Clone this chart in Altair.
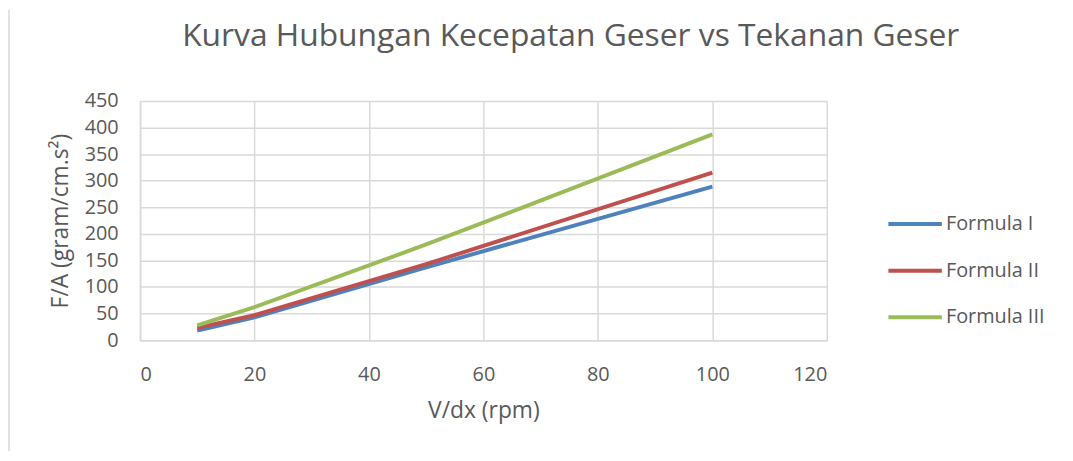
import altair as alt
import pandas as pd

x_vals = [10, 20, 50, 100]
formula1 = [18, 43, 137, 289]
formula2 = [23, 47, 143, 315]
formula3 = [28, 62, 180, 387]
series = ["Formula I", "Formula II", "Formula III"]
colors = ["#4f81bd", "#c0504d", "#9bbb59"]
title_text = "Kurva Hubungan Kecepatan Geser vs Tekanan Geser"

rows = []
for name, vals in zip(series, [formula1, formula2, formula3]):
    for xv, yv in zip(x_vals, vals):
        rows.append({"x": xv, "y": yv, "series": name})
df = pd.DataFrame(rows)

FONT = "Open Sans"
GRAY = "#595959"

lines = alt.Chart(df).mark_line(strokeWidth=4).encode(
    x=alt.X("x:Q", scale=alt.Scale(domain=[0, 120], nice=False),
            axis=alt.Axis(values=[0, 20, 40, 60, 80, 100, 120], title="V/dx (rpm)",
                          labelPadding=25, titlePadding=15)),
    y=alt.Y("y:Q", scale=alt.Scale(domain=[0, 450], nice=False),
            axis=alt.Axis(values=list(range(0, 451, 50)), title="F/A (gram/cm.s²)",
                          labelPadding=22, titlePadding=12)),
    color=alt.Color("series:N", scale=alt.Scale(domain=series, range=colors),
                    legend=alt.Legend(title=None, orient="none", legendX=752, legendY=95,
                                      symbolType="stroke", symbolSize=2900,
                                      symbolStrokeWidth=4, rowPadding=8,
                                      labelFontSize=20, labelColor=GRAY, labelFont=FONT,
                                      labelOffset=2)),
)

meta = pd.DataFrame({"t": [title_text]})

border = alt.Chart(meta).mark_rule(color="#d9d9d9", strokeWidth=1.5).encode(
    x=alt.value(-132), y=alt.value(-92), y2=alt.value(361)
)

title = alt.Chart(meta).mark_text(
    font=FONT, fontSize=32, color=GRAY, align="center", baseline="middle"
).encode(text="t:N", x=alt.value(434), y=alt.value(-65))

chart = alt.layer(border, title, lines).properties(
    width=692, height=241,
    autosize=alt.AutoSizeParams(type="none"),
    padding={"left": 133, "top": 92, "right": 240, "bottom": 110},
    background="white",
).configure_view(stroke=None).configure_axis(
    grid=True, gridColor="#d9d9d9", gridWidth=1.5, domainColor="#d9d9d9", domainWidth=1.5,
    ticks=False, labelFont=FONT, labelFontSize=20, labelColor=GRAY,
    titleFont=FONT, titleFontSize=23, titleFontWeight="normal", titleColor=GRAY,
)

chart.save("out.html", embed_options={"renderer": "svg", "actions": False})
